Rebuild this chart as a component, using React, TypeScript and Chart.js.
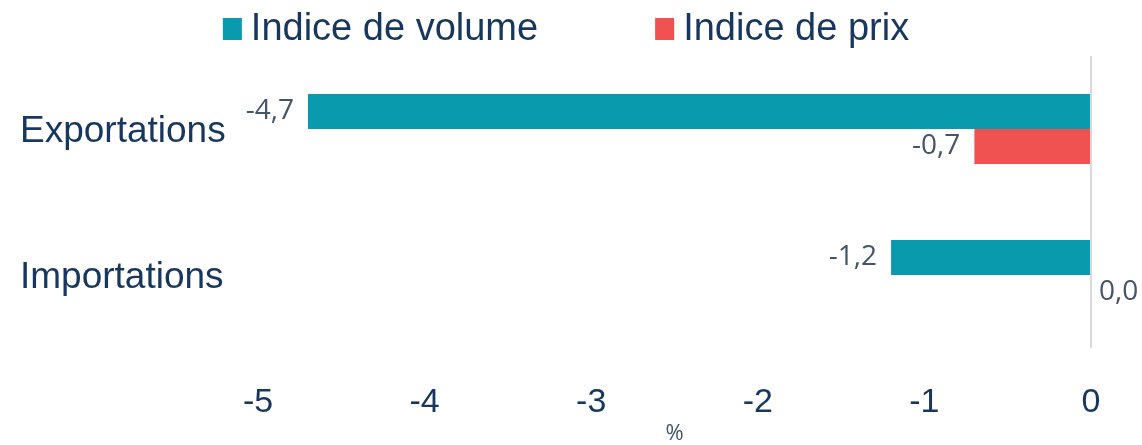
import React, { useEffect, useRef } from "react";
import { Chart, registerables } from "chart.js";

Chart.register(...registerables);

const categories = ["Exportations", "Importations"];
const volumeValues = [-4.7, -1.2];
const priceValues = [-0.7, 0.0];
const seriesNames = ["Indice de volume", "Indice de prix"];
const seriesColors = ["#0a9aae", "#f05252"];
const tickValues = [-5, -4, -3, -2, -1, 0];
const tickLabels = ["-5", "-4", "-3", "-2", "-1", "0"];
const axisTitle = "%";

const NAVY = "#17375e";
const LABEL = "#44546a";
const SANS = "'Liberation Sans', Arial";

const fmt = (v: number) => v.toFixed(1).replace(".", ",");

const dataLabelPlugin = {
  id: "dataLabels",
  afterDatasetsDraw(chart: any) {
    const ctx = chart.ctx;
    ctx.save();
    ctx.font = "28px 'Open Sans'";
    ctx.fillStyle = LABEL;
    ctx.textBaseline = "middle";
    chart.data.datasets.forEach((ds: any, di: number) => {
      const meta = chart.getDatasetMeta(di);
      meta.data.forEach((bar: any, i: number) => {
        const v = ds.data[i];
        const txt = fmt(v);
        if (v < 0) {
          ctx.textAlign = "right";
          ctx.fillText(txt, bar.x - 14, bar.y);
        } else {
          ctx.textAlign = "left";
          ctx.fillText(txt, bar.x + 8, bar.y);
        }
      });
    });
    ctx.restore();
  },
};

const legendPlugin = {
  id: "customLegend",
  afterDraw(chart: any) {
    const ctx = chart.ctx;
    ctx.save();
    ctx.font = `38px ${SANS}`;
    ctx.textBaseline = "middle";
    ctx.textAlign = "left";
    const boxW = 19;
    const boxH = 22;
    const gapText = 9;
    const gapItem = 117;
    const items = chart.data.datasets.map((ds: any) => ({
      text: ds.label,
      color: ds.backgroundColor,
      w: ctx.measureText(ds.label).width,
    }));
    let total = 0;
    items.forEach((it: any, i: number) => {
      total += boxW + gapText + it.w + (i > 0 ? gapItem : 0);
    });
    let x = chart.width / 2 - total / 2 - 5;
    const cy = 29;
    items.forEach((it: any) => {
      ctx.fillStyle = it.color;
      ctx.fillRect(x, cy - boxH / 2, boxW, boxH);
      x += boxW + gapText;
      ctx.fillStyle = NAVY;
      ctx.fillText(it.text, x, cy + 1);
      x += it.w + gapItem;
    });
    ctx.restore();
  },
};

export default function App() {
  const ref = useRef<HTMLCanvasElement>(null);
  useEffect(() => {
    if (!ref.current) return;
    const chart = new Chart(ref.current, {
      type: "bar",
      data: {
        labels: categories,
        datasets: [
          {
            label: seriesNames[0],
            data: volumeValues,
            backgroundColor: seriesColors[0],
            categoryPercentage: 0.48,
            barPercentage: 1,
          },
          {
            label: seriesNames[1],
            data: priceValues,
            backgroundColor: seriesColors[1],
            categoryPercentage: 0.48,
            barPercentage: 1,
          },
        ],
      },
      options: {
        indexAxis: "y",
        responsive: false,
        animation: false,
        layout: { padding: { left: 20, right: 51, top: 56, bottom: 0 } },
        plugins: {
          legend: { display: false },
          tooltip: { enabled: false },
        },
        scales: {
          x: {
            min: -5,
            max: 0,
            afterBuildTicks(scale: any) {
              scale.ticks = tickValues.map((v) => ({ value: v }));
            },
            afterFit(scale: any) {
              scale.height = 97;
            },
            ticks: {
              callback: (v: any) => {
                const idx = tickValues.indexOf(Number(v));
                return idx >= 0 ? tickLabels[idx] : "";
              },
              font: { family: SANS, size: 34 },
              color: NAVY,
              padding: 34,
              maxRotation: 0,
            },
            grid: {
              color: (c: any) => (c.tick && c.tick.value === 0 ? "#d9d9d9" : "rgba(0,0,0,0)"),
              lineWidth: 2,
              drawTicks: false,
            },
            border: { display: false },
            title: {
              display: true,
              text: axisTitle,
              font: { family: "'Open Sans'", size: 22 },
              color: LABEL,
              padding: { top: 0, bottom: -2 },
            },
          },
          y: {
            afterFit(scale: any) {
              scale.width = 238;
            },
            ticks: {
              font: { family: SANS, size: 37 },
              color: NAVY,
              crossAlign: "far",
              labelOffset: 3,
            },
            grid: { display: false, drawTicks: false },
            border: { display: false },
          },
        },
      },
      plugins: [dataLabelPlugin, legendPlugin],
    } as any);
    return () => chart.destroy();
  }, []);
  return (
    <div style={{ position: "absolute", left: 0, top: 0, width: 1142, height: 445 }}>
      <canvas ref={ref} width={1142} height={445} />
    </div>
  );
}
